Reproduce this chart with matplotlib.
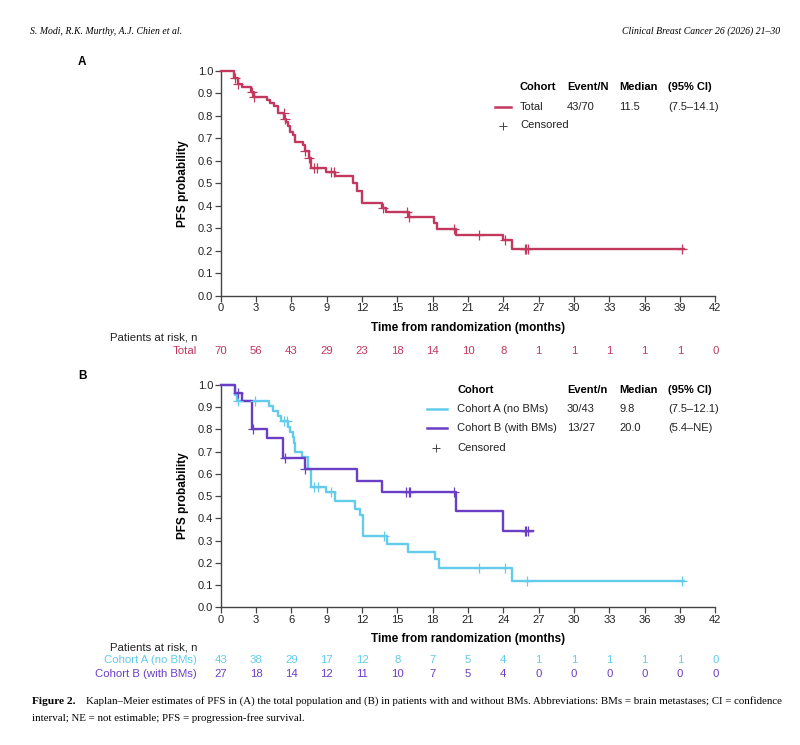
import matplotlib

matplotlib.use("Agg")

import matplotlib.pyplot as plt
import matplotlib.transforms as mtransforms
import numpy as np

plt.rcParams["font.family"] = ["Liberation Sans", "DejaVu Sans"]

# month ticks shared by both panels
month_ticks = list(range(0, 43, 3))

# panel A - total population
total_times = [0, 1.15, 1.45, 1.85, 2.6, 2.8, 3.9, 4.2, 4.5, 4.9, 5.4, 5.55, 5.75, 5.9,
               6.1, 6.3, 6.95, 7.15, 7.5, 7.65, 8.9, 9.7, 11.25, 11.6, 12.0, 13.7, 14.05,
               16.0, 18.1, 18.4, 20.0, 24.0, 24.7]
total_surv = [1.0, 0.971, 0.943, 0.929, 0.908, 0.886, 0.871, 0.857, 0.843, 0.814, 0.786,
              0.771, 0.757, 0.729, 0.714, 0.686, 0.671, 0.643, 0.614, 0.567, 0.550, 0.533,
              0.500, 0.467, 0.411, 0.392, 0.371, 0.352, 0.322, 0.297, 0.272, 0.248, 0.208]
total_end = 39.3
total_censor = [1.25, 1.5, 2.65, 2.8, 5.35, 5.5, 7.2, 7.5, 7.9, 8.2, 9.4, 9.6, 13.8,
                15.8, 16.0, 19.8, 21.9, 24.1, 25.8, 25.95, 26.1, 39.2]
total_risk = [70, 56, 43, 29, 23, 18, 14, 10, 8, 1, 1, 1, 1, 1, 0]

# panel B - cohort A (no BMs)
coha_times = [0, 1.2, 1.4, 4.1, 4.45, 4.85, 5.1, 5.7, 5.9, 6.1, 6.25, 6.35, 6.9, 7.45,
              7.65, 8.9, 9.7, 11.4, 11.8, 12.05, 14.1, 15.9, 18.2, 18.5, 24.7]
coha_surv = [1.0, 0.953, 0.930, 0.907, 0.884, 0.860, 0.837, 0.813, 0.790, 0.766, 0.740,
             0.700, 0.678, 0.620, 0.541, 0.520, 0.480, 0.440, 0.415, 0.320, 0.285, 0.250,
             0.216, 0.178, 0.118]
coha_end = 39.3
coha_censor = [1.5, 2.9, 5.4, 5.6, 7.9, 8.3, 9.4, 13.9, 21.9, 24.1, 26.0, 39.2]
coha_risk = [43, 38, 29, 17, 12, 8, 7, 5, 4, 1, 1, 1, 1, 1, 0]

# panel B - cohort B (with BMs)
cohb_times = [0, 1.2, 1.85, 2.7, 3.95, 5.3, 7.15, 11.55, 13.7, 20.0, 24.0]
cohb_surv = [1.0, 0.963, 0.926, 0.800, 0.760, 0.670, 0.620, 0.570, 0.517, 0.433, 0.345]
cohb_end = 26.5
cohb_censor = [1.5, 2.75, 5.45, 7.2, 15.75, 15.95, 16.1, 19.8, 25.8, 25.95, 26.1]
cohb_risk = [27, 18, 14, 12, 11, 10, 7, 5, 4, 0, 0, 0, 0, 0, 0]

CRIMSON = "#c2385f"
CYAN = "#62ccea"
PURPLE = "#6a3fc6"
TEXT = "#222222"

W, H = 800, 745


def fy(py):
    return 1 - py / H


def fx(px):
    return px / W


def km(ax, times, surv, end, censor, color):
    xs = list(times) + [end]
    ys = list(surv) + [surv[-1]]
    ax.step(xs, ys, where="post", color=color, lw=1.7, clip_on=False, zorder=3)
    t = np.asarray(times)
    idx = np.searchsorted(t, censor, side="right") - 1
    cy = np.asarray(surv)[idx]
    ax.plot(censor, cy, ls="none", marker="+", ms=7, mew=0.9, color=color,
            clip_on=False, zorder=4)


def style_axes(ax):
    ax.set_xlim(0, 42)
    ax.set_ylim(0, 1)
    ax.set_xticks(month_ticks)
    ax.set_yticks(np.arange(0, 1.01, 0.1))
    ax.set_yticklabels([f"{v:.1f}" for v in np.arange(0, 1.01, 0.1)])
    for s in ("top", "right"):
        ax.spines[s].set_visible(False)
    for s in ("left", "bottom"):
        ax.spines[s].set_color("#444444")
        ax.spines[s].set_linewidth(1.0)
    ax.tick_params(direction="out", length=4, width=0.9, colors="#444444",
                   labelsize=8, labelcolor=TEXT, pad=1.5)
    ax.set_ylabel("PFS probability", fontsize=8.5, fontweight="bold", labelpad=6)
    ax.set_xlabel("Time from randomization (months)", fontsize=8.5,
                  fontweight="bold", labelpad=6)


def risk_row(fig, ax, label, values, py, color):
    trans = mtransforms.blended_transform_factory(ax.transData, fig.transFigure)
    for m, v in zip(month_ticks, values):
        ax.text(m, fy(py), str(v), transform=trans, ha="center", va="center",
                fontsize=8.2, color=color, clip_on=False)
    fig.text(fx(197), fy(py), label, ha="right", va="center", fontsize=8.2, color=color)


fig = plt.figure(figsize=(W / 100, H / 100), dpi=100)

# header and caption
fig.text(fx(30), fy(31), "S. Modi, R.K. Murthy, A.J. Chien et al.", fontsize=7,
         style="italic", family="Liberation Serif", va="center")
fig.text(fx(780), fy(31), "Clinical Breast Cancer 26 (2026) 21–30", fontsize=7,
         style="italic", family="Liberation Serif", va="center", ha="right")
fig.text(fx(78), fy(62), "A", fontsize=8.5, fontweight="bold", va="center")
fig.text(fx(78), fy(376), "B", fontsize=8.5, fontweight="bold", va="center")

fig.text(fx(32), fy(701), "Figure 2.", fontsize=8.2, fontweight="bold",
         family="Liberation Serif", va="center")
fig.text(fx(86), fy(701),
         "Kaplan–Meier estimates of PFS in (A) the total population and (B) in patients "
         "with and without BMs. Abbreviations: BMs = brain metastases; CI = confidence",
         fontsize=7.8, family="Liberation Serif", va="center")
fig.text(fx(32), fy(718),
         "interval; NE = not estimable; PFS = progression-free survival.",
         fontsize=7.8, family="Liberation Serif", va="center")

# panel A
axA = fig.add_axes([fx(220.7), fy(295.7), fx(715.3 - 220.7), (295.7 - 71) / H])
style_axes(axA)
km(axA, total_times, total_surv, total_end, total_censor, CRIMSON)

fig.text(fx(520), fy(87), "Cohort", fontsize=8, fontweight="bold", va="center")
fig.text(fx(567), fy(87), "Event/N", fontsize=8, fontweight="bold", va="center")
fig.text(fx(619), fy(87), "Median", fontsize=8, fontweight="bold", va="center")
fig.text(fx(668), fy(87), "(95% CI)", fontsize=8, fontweight="bold", va="center")
fig.add_artist(plt.Line2D([fx(495), fx(511)], [fy(106.5), fy(106.5)], color=CRIMSON, lw=1.8))
for px, s in [(520, "Total"), (567, "43/70"), (619, "11.5"), (668, "(7.5–14.1)")]:
    fig.text(fx(px), fy(106.5), s, fontsize=8, va="center", color=TEXT)
fig.add_artist(plt.Line2D([fx(503)], [fy(125.5)], marker="+", ms=6, mew=0.7,
                          color="#444444", ls="none"))
fig.text(fx(520), fy(125.5), "Censored", fontsize=8, va="center", color=TEXT)

fig.text(fx(110), fy(337), "Patients at risk, n", fontsize=8.2, va="center", color=TEXT)
risk_row(fig, axA, "Total", total_risk, 351, CRIMSON)

# panel B
axB = fig.add_axes([fx(220.7), fy(607.3), fx(715.3 - 220.7), (607.3 - 385) / H])
style_axes(axB)
km(axB, coha_times, coha_surv, coha_end, coha_censor, CYAN)
km(axB, cohb_times, cohb_surv, cohb_end, cohb_censor, PURPLE)

fig.text(fx(457), fy(390), "Cohort", fontsize=8, fontweight="bold", va="center")
fig.text(fx(567), fy(390), "Event/n", fontsize=8, fontweight="bold", va="center")
fig.text(fx(619), fy(390), "Median", fontsize=8, fontweight="bold", va="center")
fig.text(fx(668), fy(390), "(95% CI)", fontsize=8, fontweight="bold", va="center")
rowsB = [
    (409.3, CYAN, ["Cohort A (no BMs)", "30/43", "9.8", "(7.5–12.1)"]),
    (428.3, PURPLE, ["Cohort B (with BMs)", "13/27", "20.0", "(5.4–NE)"]),
]
for py, col, cells in rowsB:
    fig.add_artist(plt.Line2D([fx(427), fx(447)], [fy(py), fy(py)], color=col, lw=1.8))
    for px, s in zip([457, 567, 619, 668], cells):
        fig.text(fx(px), fy(py), s, fontsize=8, va="center", color=TEXT)
fig.add_artist(plt.Line2D([fx(436)], [fy(447.7)], marker="+", ms=6, mew=0.7,
                          color="#444444", ls="none"))
fig.text(fx(457), fy(447.7), "Censored", fontsize=8, va="center", color=TEXT)

fig.text(fx(110), fy(647), "Patients at risk, n", fontsize=8.2, va="center", color=TEXT)
risk_row(fig, axB, "Cohort A (no BMs)", coha_risk, 660, CYAN)
risk_row(fig, axB, "Cohort B (with BMs)", cohb_risk, 674, PURPLE)

fig.savefig("out.png", dpi=100)
